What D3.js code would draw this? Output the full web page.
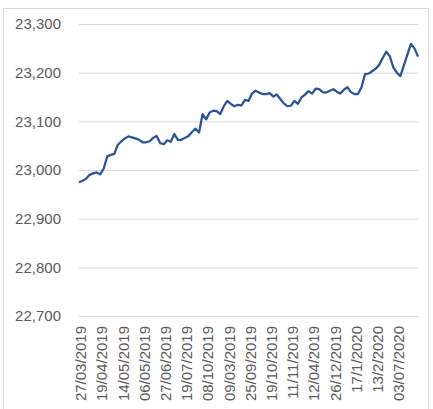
<html>
  <head>
    <meta charset="utf-8">
    <script src="https://d3js.org/d3.v7.min.js"></script>
    <style>
    body {
      margin: 0;
      background-color: #ffffff;
    }
    </style>
  </head>
  <body>
    <div id="my_dataviz"></div>

    <script>
    // category labels shown on the x axis (one every 6 points)
    var dateLabels = ["27/03/2019", "19/04/2019", "14/05/2019", "06/05/2019", "27/06/2019",
      "19/07/2019", "08/10/2019", "09/03/2019", "25/09/2019", "19/10/2019", "11/11/2019",
      "12/04/2019", "26/12/2019", "17/1/2020", "13/2/2020", "03/07/2020"];
    var labelStep = 6;

    // series values
    var values = [22975, 22978, 22982, 22990, 22993, 22995, 22991, 23003, 23028, 23031,
      23033, 23052, 23059, 23065, 23069, 23067, 23065, 23062, 23057, 23057,
      23059, 23066, 23070, 23055, 23053, 23061, 23058, 23074, 23062, 23062,
      23066, 23070, 23078, 23085, 23077, 23115, 23104, 23118, 23122, 23121,
      23115, 23131, 23142, 23136, 23131, 23134, 23133, 23144, 23142, 23157,
      23163, 23159, 23156, 23156, 23158, 23151, 23155, 23146, 23137, 23131,
      23132, 23142, 23136, 23149, 23155, 23162, 23157, 23167, 23166, 23160,
      23159, 23163, 23166, 23161, 23157, 23165, 23170, 23160, 23156, 23156,
      23170, 23197, 23198, 23203, 23208, 23216, 23230, 23243, 23234, 23211,
      23200, 23193, 23215, 23237, 23259, 23250, 23233];

    // y axis ticks
    var yTicks = [22700, 22800, 22900, 23000, 23100, 23200, 23300];

    var W = 433, H = 409;
    var margin = {top: 24, right: 15, bottom: 93, left: 79};

    var svg = d3.select("#my_dataviz")
      .append("svg")
        .attr("width", W)
        .attr("height", H);

    // chart area border
    svg.append("rect")
      .attr("x", 3.5)
      .attr("y", 8.5)
      .attr("width", 425)
      .attr("height", 410)
      .attr("fill", "none")
      .attr("stroke", "#d9d9d9");

    var x = d3.scaleLinear()
      .domain([0, values.length - 1])
      .range([margin.left, W - margin.right]);

    var y = d3.scaleLinear()
      .domain([22700, 23300])
      .range([H - margin.bottom, margin.top]);

    // gridlines
    var grid = svg.append("g")
      .attr("transform", "translate(" + margin.left + ",0)")
      .call(d3.axisLeft(y)
        .tickValues(yTicks)
        .tickSize(-(W - margin.right - margin.left))
        .tickFormat(""));
    grid.select(".domain").remove();
    grid.selectAll("line")
      .attr("stroke", "#d9d9d9")
      .attr("stroke-width", 1);

    // y axis labels
    var yAxis = svg.append("g")
      .attr("transform", "translate(" + (margin.left - 18) + ",0)")
      .call(d3.axisLeft(y)
        .tickValues(yTicks)
        .tickSize(0)
        .tickPadding(0)
        .tickFormat(d3.format(",")));
    yAxis.select(".domain").remove();
    yAxis.selectAll("text")
      .attr("fill", "#595959")
      .style("font-family", "'Liberation Sans', Arial, sans-serif")
      .style("font-size", "15px");

    // x axis labels, rotated
    var xAxis = svg.append("g")
      .attr("transform", "translate(0," + (H - margin.bottom) + ")")
      .call(d3.axisBottom(x)
        .tickValues(dateLabels.map(function(d, i) { return i * labelStep; }))
        .tickSize(0)
        .tickFormat(function(d) { return dateLabels[d / labelStep]; }));
    xAxis.select(".domain").remove();
    xAxis.selectAll("text")
      .attr("fill", "#595959")
      .style("font-family", "'Liberation Sans', Arial, sans-serif")
      .style("font-size", "15px")
      .attr("text-anchor", "end")
      .attr("transform", "rotate(-90)")
      .attr("x", -10)
      .attr("y", 0)
      .attr("dy", "0.45em")
      .attr("dx", 0);

    // the line
    var line = d3.line()
      .x(function(d, i) { return x(i); })
      .y(function(d) { return y(d); });

    svg.append("path")
      .datum(values)
      .attr("fill", "none")
      .attr("stroke", "#2a5397")
      .attr("stroke-width", 2.25)
      .attr("stroke-linejoin", "round")
      .attr("d", line);
    </script>
  </body>
</html>
